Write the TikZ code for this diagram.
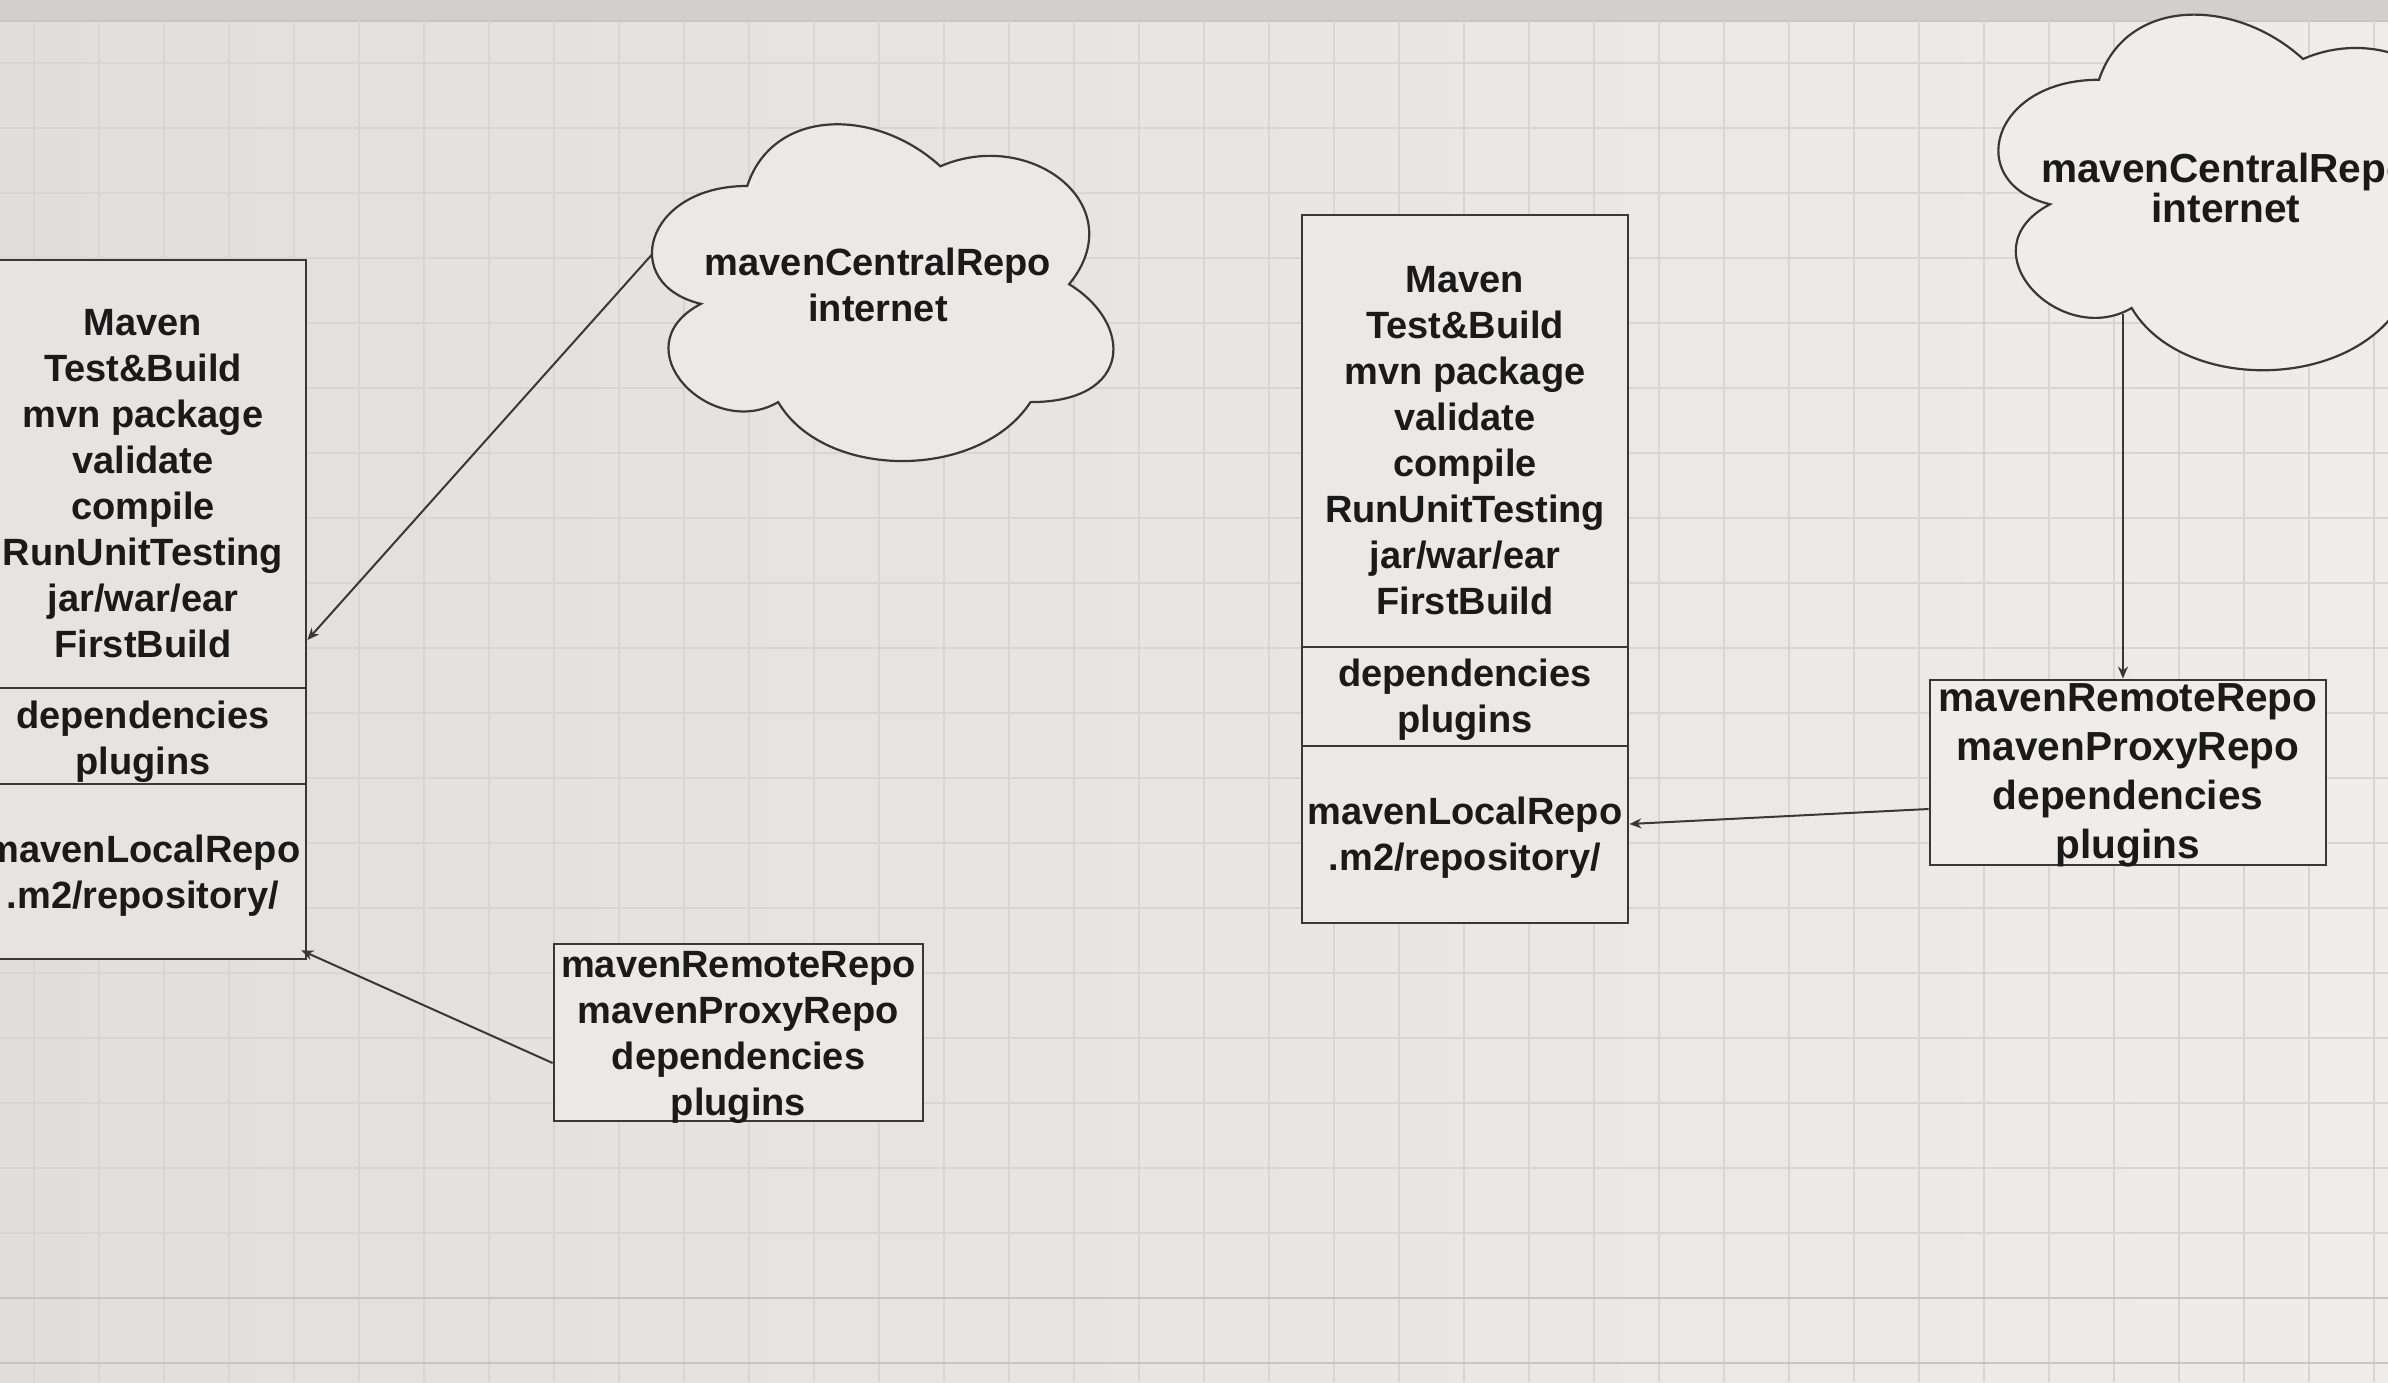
\documentclass[tikz,border=0pt]{standalone}
\usepackage{fontspec}
\setmainfont{Liberation Sans}
\usetikzlibrary{arrows.meta}
\definecolor{bgL}{HTML}{E1DFDD}
\definecolor{bgR}{HTML}{EEEDEB}
\definecolor{topband}{HTML}{D2D0CE}
\definecolor{gridc}{HTML}{D8D6D4}
\definecolor{gridd}{HTML}{C8C6C4}
\definecolor{ink}{HTML}{1A1A1A}
\definecolor{linec}{HTML}{383838}
\definecolor{fillL}{HTML}{E6E4E2}
\definecolor{fillM}{HTML}{EBE9E7}
\definecolor{fillR}{HTML}{EEEDEB}
\tikzset{
  txt/.style={font=\fontsize{19}{23}\selectfont\bfseries, text=ink, align=center, inner sep=0pt},
  txtbig/.style={font=\fontsize{20.3}{24.5}\selectfont\bfseries, text=ink, align=center, inner sep=0pt},
  boxL/.style={draw=linec, line width=1.4pt, fill=fillL, inner sep=0pt, minimum width=163pt},
  boxM/.style={draw=linec, line width=1.4pt, fill=fillM, inner sep=0pt, minimum width=163pt},
  boxR/.style={draw=linec, line width=1.4pt, fill=fillR, inner sep=0pt},
  cloudline/.style={draw=linec, line width=1.1pt},
  conn/.style={draw=linec, line width=1pt, -{Stealth[length=6pt,width=5pt]}},
  gridline/.style={draw=gridc, line width=0.7pt},
  gridheavy/.style={draw=gridd, line width=1.1pt}
}
\begin{document}
\begin{tikzpicture}[x=0.5pt,y=-0.5pt]
\useasboundingbox (0,0) rectangle (2388,1382);
\clip (0,0) rectangle (2388,1382);
% background and grid
\shade[left color=bgL, right color=bgR] (0,0) rectangle (2388,1382);
\fill[topband] (0,0) rectangle (2388,20);
\draw[gridheavy] (0,21) -- (2388,21);
\foreach \i in {0,...,36} \draw[gridline] ({34+65*\i},21) -- ({34+65*\i},1382);
\foreach \j in {0,...,18} \draw[gridline] (0,{63+65*\j}) -- (2388,{63+65*\j});
\draw[gridheavy] (0,1298) -- (2388,1298);
\draw[gridheavy] (0,1363) -- (2388,1363);

% left stack
\node[boxL, minimum height=214pt] (lbt) at (143,474) {};
\node[txt] (lbtT) at ([yshift=-5pt]lbt.center)
  {Maven\\Test\&Build\\mvn package\\validate\\compile\\RunUnitTesting\\jar/war/ear\\FirstBuild};
\node[boxL, minimum height=48pt] (lbd) at (143,736) {};
\node[txt] (lbdT) at ([yshift=-3pt]lbd.center) {dependencies\\plugins};
\node[boxL, minimum height=87.5pt] (lbl) at (143,871.5) {};
\node[txt] (lblT) at ([yshift=-2pt]lbl.center) {mavenLocalRepo\\.m2/repository/};

% middle stack
\node[boxM, minimum height=216pt] (mbt) at (1465,431) {};
\node[txt] (mbtT) at ([yshift=-5pt]mbt.center)
  {Maven\\Test\&Build\\mvn package\\validate\\compile\\RunUnitTesting\\jar/war/ear\\FirstBuild};
\node[boxM, minimum height=49.5pt] (mbd) at (1465,696.5) {};
\node[txt] (mbdT) at ([yshift=-1.5pt]mbd.center) {dependencies\\plugins};
\node[boxM, minimum height=88.5pt] (mbl) at (1465,834.5) {};
\node[txt] (mblT) at ([yshift=-1.5pt]mbl.center) {mavenLocalRepo\\.m2/repository/};

% remote repo boxes
\node[boxM, minimum width=184.5pt, minimum height=88.5pt] (rb1) at (738.5,1032.5) {};
\node[txt] (rb1T) at ([yshift=-2.25pt]rb1.center) {mavenRemoteRepo\\mavenProxyRepo\\dependencies\\plugins};
\node[boxR, minimum width=198pt, minimum height=92.5pt] (rb2) at (2128,772.5) {};
\node[txtbig] (rb2T) at ([yshift=-1.5pt]rb2.center) {mavenRemoteRepo\\mavenProxyRepo\\dependencies\\plugins};

% cloud 1
\begin{scope}[shift={(618.5,87.7)}, x=257.5pt, y=-196.5pt]
  \path[cloudline, fill=fillM] (0.25,0.25) .. controls (0.05,0.25) and (0,0.5) .. (0.16,0.55)
    .. controls (0,0.66) and (0.18,0.9) .. (0.31,0.8)
    .. controls (0.4,1) and (0.7,1) .. (0.8,0.8)
    .. controls (1,0.8) and (1,0.6) .. (0.875,0.5)
    .. controls (1,0.3) and (0.8,0.1) .. (0.625,0.2)
    .. controls (0.5,0.05) and (0.3,0.05) .. (0.25,0.25) -- cycle;
  \coordinate (c1w) at (0.066,0.4228);
\end{scope}
\node[txt] (c1t) at (878,285) {mavenCentralRepo\\internet};

% cloud 2
\begin{scope}[shift={(1963,-24)}, x=272pt, y=-207.5pt]
  \path[cloudline, fill=fillR] (0.25,0.25) .. controls (0.05,0.25) and (0,0.5) .. (0.16,0.55)
    .. controls (0,0.66) and (0.18,0.9) .. (0.31,0.8)
    .. controls (0.4,1) and (0.7,1) .. (0.8,0.8)
    .. controls (1,0.8) and (1,0.6) .. (0.875,0.5)
    .. controls (1,0.3) and (0.8,0.1) .. (0.625,0.2)
    .. controls (0.5,0.05) and (0.3,0.05) .. (0.25,0.25) -- cycle;
  \coordinate (c2s) at (0.294,0.815);
\end{scope}
\node[font=\fontsize{20.3}{20}\selectfont\bfseries, text=ink, align=center, inner sep=0pt] (c2t) at (2226,188) {mavenCentralRepo\\internet};

% connectors
\draw[conn] (c1w) -- ([yshift=-83pt]lbt.east);
\draw[conn] ([yshift=-15.25pt]rb1.west) -- ([xshift=-3pt,yshift=5pt]lbl.south east);
\draw[conn] (c2s) -- (c2s |- rb2.north);
\draw[conn] ([yshift=-18.25pt]rb2.west) -- ([yshift=5.25pt]mbl.east);
\end{tikzpicture}
\end{document}
